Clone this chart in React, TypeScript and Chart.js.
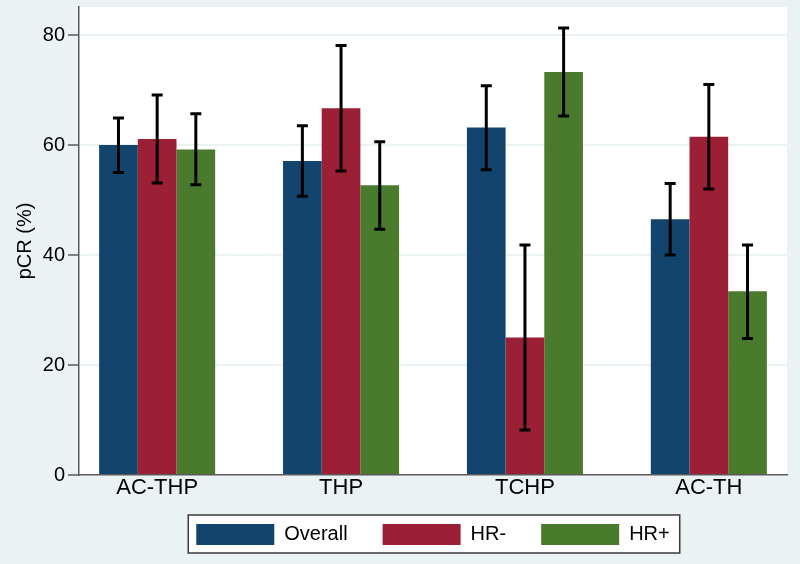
import React, { useEffect, useRef } from 'react';
import { Chart, registerables } from 'chart.js';

Chart.register(...registerables);

const categories = ['AC-THP', 'THP', 'TCHP', 'AC-TH'];
const seriesNames = ['Overall', 'HR-', 'HR+'];
const seriesColors = ['#13446E', '#9B2036', '#4A7A2C'];

const overall = [60.0, 57.1, 63.2, 46.5];
const overallLow = [55.0, 50.7, 55.5, 40.0];
const overallHigh = [64.9, 63.5, 70.8, 53.0];

const hrNeg = [61.1, 66.7, 25.0, 61.5];
const hrNegLow = [53.1, 55.3, 8.2, 52.0];
const hrNegHigh = [69.1, 78.1, 41.8, 71.0];

const hrPos = [59.2, 52.7, 73.3, 33.4];
const hrPosLow = [52.8, 44.7, 65.3, 24.8];
const hrPosHigh = [65.7, 60.6, 81.3, 41.8];

const yTicks = [0, 20, 40, 60, 80];

const values = [overall, hrNeg, hrPos];
const lows = [overallLow, hrNegLow, hrPosLow];
const highs = [overallHigh, hrNegHigh, hrPosHigh];

const FONT = "'Liberation Sans', Arial, Helvetica, sans-serif";

const bgPlugin = {
  id: 'stataBg',
  afterLayout(chart: any) {
    // let the category labels extend below the (thin) x-axis box without being clipped
    const xs = chart.scales.x;
    if (xs) xs.bottom = Math.max(xs.bottom, xs.top + 34);
  },
  beforeDraw(chart: any) {
    const { ctx, chartArea: a, width, height } = chart;
    ctx.save();
    ctx.fillStyle = '#EAF2F3';
    ctx.fillRect(0, 0, width, height);
    ctx.fillStyle = '#FFFFFF';
    ctx.fillRect(a.left, a.top, a.right - a.left, a.bottom - a.top);
    const hb = chart.legend && chart.legend.legendHitBoxes;
    if (hb && hb.length) {
      const l = Math.min(...hb.map((h: any) => h.left)) - 8;
      const r = Math.max(...hb.map((h: any) => h.left + h.width)) + 10;
      const t = Math.min(...hb.map((h: any) => h.top)) - 9;
      const b = Math.max(...hb.map((h: any) => h.top + h.height)) + 8;
      ctx.fillStyle = '#FFFFFF';
      ctx.fillRect(l, t, r - l, b - t);
      ctx.strokeStyle = '#3A3A3A';
      ctx.lineWidth = 1.5;
      ctx.strokeRect(l, t, r - l, b - t);
    }
    ctx.restore();
  },
};

const errorBarPlugin = {
  id: 'errorBars',
  afterDatasetsDraw(chart: any) {
    const { ctx } = chart;
    const yScale = chart.scales.y;
    ctx.save();
    ctx.strokeStyle = '#000000';
    ctx.lineWidth = 3;
    ctx.lineCap = 'butt';
    chart.data.datasets.forEach((ds: any, di: number) => {
      const meta = chart.getDatasetMeta(di);
      if (meta.hidden) return;
      meta.data.forEach((bar: any, j: number) => {
        const x = bar.x;
        const yHi = yScale.getPixelForValue(highs[di][j]);
        const yLo = yScale.getPixelForValue(lows[di][j]);
        const cap = 5.5;
        ctx.beginPath();
        ctx.moveTo(x, yHi);
        ctx.lineTo(x, yLo);
        ctx.moveTo(x - cap, yHi);
        ctx.lineTo(x + cap, yHi);
        ctx.moveTo(x - cap, yLo);
        ctx.lineTo(x + cap, yLo);
        ctx.stroke();
      });
    });
    ctx.restore();
  },
};

export default function App() {
  const canvasRef = useRef<HTMLCanvasElement | null>(null);

  useEffect(() => {
    if (!canvasRef.current) return;
    Chart.defaults.font.family = FONT;
    const chart = new Chart(canvasRef.current, {
      type: 'bar',
      data: {
        datasets: seriesNames.map((name, i) => ({
          label: name,
          data: values[i].map((v, j) => ({ x: j, y: v })),
          backgroundColor: seriesColors[i],
          borderColor: seriesColors[i],
          borderWidth: 0,
          categoryPercentage: 0.631,
          barPercentage: 1,
        })),
      },
      options: {
        responsive: false,
        devicePixelRatio: 1,
        animation: false,
        layout: { padding: { top: 7, right: 13, left: 0, bottom: 9 } },
        scales: {
          x: {
            type: 'linear',
            min: -0.425,
            max: 3.425,
            offset: false,
            afterBuildTicks: (axis: any) => {
              axis.ticks = categories.map((_, i) => ({ value: i }));
            },
            afterFit: (scale: any) => {
              scale.height = 14;
              scale.paddingLeft = 0;
              scale.paddingRight = 0;
            },
            grid: { display: false, drawTicks: false },
            border: { display: true, color: '#5A5A5A', width: 1.5 },
            ticks: {
              padding: 0,
              color: '#000000',
              font: { size: 22, family: FONT },
              maxRotation: 0,
              autoSkip: false,
              callback: (v: any) => categories[Math.round(Number(v))] ?? '',
            },
          },
          y: {
            type: 'linear',
            min: 0,
            max: 85.1,
            afterBuildTicks: (axis: any) => {
              axis.ticks = yTicks.map((v) => ({ value: v }));
            },
            afterFit: (scale: any) => {
              scale.width = 79;
              scale.paddingTop = 0;
              scale.paddingBottom = 0;
            },
            grid: {
              color: '#EAF2F3',
              lineWidth: 2,
              tickColor: '#5A5A5A',
              tickWidth: 1.5,
              tickLength: 11,
            },
            border: { display: true, color: '#5A5A5A', width: 1.5 },
            ticks: {
              padding: 3,
              color: '#000000',
              font: { size: 20, family: FONT },
            },
            title: {
              display: true,
              text: 'pCR (%)',
              color: '#000000',
              font: { size: 20, family: FONT },
              padding: { top: 13, bottom: 0 },
            },
          },
        },
        plugins: {
          legend: {
            display: true,
            position: 'bottom',
            fullSize: false,
            labels: {
              boxWidth: 78,
              boxHeight: 21,
              padding: 35,
              color: '#000000',
              font: { size: 20, family: FONT },
            },
          },
          tooltip: { enabled: false },
        },
      },
      plugins: [bgPlugin, errorBarPlugin],
    } as any);
    return () => chart.destroy();
  }, []);

  return (
    <div style={{ position: 'fixed', left: 0, top: 0, width: 800, height: 564 }}>
      <canvas ref={canvasRef} width={800} height={564} style={{ display: 'block', width: 800, height: 564 }} />
    </div>
  );
}
